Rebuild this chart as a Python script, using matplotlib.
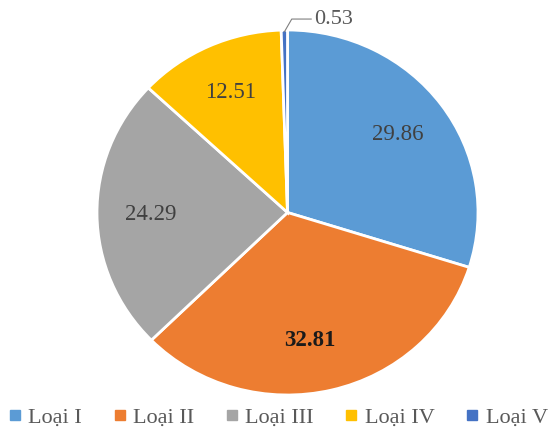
import numpy as np
import matplotlib.pyplot as plt
from matplotlib.lines import Line2D

categories = ['Loại I', 'Loại II', 'Loại III', 'Loại IV', 'Loại V']
values = [29.86, 32.81, 24.29, 12.51, 0.53]
labels = ['29.86', '32.81', '24.29', '12.51', '0.53']
colors = ['#5B9BD5', '#ED7D31', '#A5A5A5', '#FFC000', '#4472C4']

plt.rcParams['font.family'] = ['Liberation Serif', 'DejaVu Serif']

fig = plt.figure(figsize=(5.56, 4.37), dpi=100)
ax = fig.add_axes([97 / 556, 42 / 437, 381 / 556, 365 / 437])

wedges, _ = ax.pie(values, colors=colors, startangle=90, counterclock=False,
                   wedgeprops=dict(edgecolor='white', linewidth=2.0))
ax.set_aspect('auto')
ax.set_xlim(-1, 1)
ax.set_ylim(-1, 1)

# value labels inside the slices, small one outside with a leader line
for w, lab in zip(wedges, labels):
    mid = np.deg2rad((w.theta1 + w.theta2) / 2)
    x, y = np.cos(mid), np.sin(mid)
    if lab == '0.53':
        ax.annotate(lab, xy=(0.99 * x, 0.99 * y), xytext=(0.14, 1.06),
                    fontsize=16, color='#595959', va='center', ha='left',
                    annotation_clip=False,
                    arrowprops=dict(arrowstyle='-', color='#7f7f7f', lw=0.8,
                                    connectionstyle='angle,angleA=0,angleB=60,rad=0',
                                    shrinkA=0, shrinkB=0))
    elif lab == '32.81':
        ax.text(0.72 * x - 0.05, 0.72 * y, lab, ha='center', va='center',
                fontsize=16.5, fontweight='bold', color='#1a1a1a')
    else:
        ax.text(0.72 * x, 0.72 * y, lab, ha='center', va='center',
                fontsize=16.5, color='#404040')

handles = [Line2D([], [], marker='s', linestyle='none', markersize=7,
                  markerfacecolor=c, markeredgecolor=c) for c in colors]
fig.legend(handles, categories, loc='lower center', ncol=5, frameon=False,
           bbox_to_anchor=(0.5, -0.025), fontsize=16, handlelength=0.6,
           handletextpad=0.3, columnspacing=1.4, labelcolor='#595959')

fig.savefig('out.png', dpi=100)
